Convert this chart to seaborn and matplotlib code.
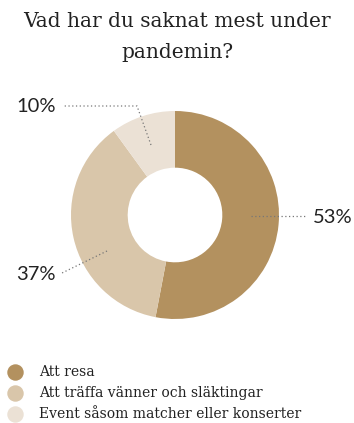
import matplotlib
matplotlib.use("Agg")
import matplotlib.pyplot as plt
import seaborn as sns
import numpy as np

# ---- data ----
title = "Vad har du saknat mest under\npandemin?"
categories = ["Att resa", "Att träffa vänner och släktingar", "Event såsom matcher eller konserter"]
values = [53, 37, 10]
value_labels = ["53%", "37%", "10%"]
colors = ["#B3915F", "#D9C6AA", "#EBE1D5"]

sns.set_theme(style="white")
plt.rcParams["font.family"] = ["DejaVu Serif"]

W, H = 354, 423
fig = plt.figure(figsize=(W / 100, H / 100), dpi=100)
ax = fig.add_axes([0, 0, 1, 1])

cx, cy, R = 175, H - 215, 104
wedges, _ = ax.pie(values, colors=colors, startangle=90, counterclock=False,
                   center=(cx, cy), radius=R, frame=True,
                   wedgeprops=dict(width=R * 0.545, linewidth=0))
ax.set_xlim(0, W)
ax.set_ylim(0, H)
ax.set_aspect("equal")
ax.axis("off")

fig.text(0.5, 1 - 37 / H, title, ha="center", va="center", fontsize=14.5,
         family="DejaVu Serif", color="#222222", linespacing=1.75)

# ---- value labels with dotted leader lines (layout positions) ----
line_kw = dict(color="#777777", lw=0.9, ls=(0, (1, 2)))
lab_kw = dict(fontsize=14.5, family="Lato", color="#222222", va="center")
# 53%
ax.plot([251, 305], [H - 216, H - 216], **line_kw)
ax.text(313, H - 217, value_labels[0], ha="left", **lab_kw)
# 37%
ax.plot([107, 62], [H - 251, H - 273], **line_kw)
ax.text(56, H - 275, value_labels[1], ha="right", **lab_kw)
# 10%
ax.plot([151, 137, 64], [H - 145, H - 106, H - 106], **line_kw)
ax.text(56, H - 106, value_labels[2], ha="right", **lab_kw)

# ---- legend ----
for i, (lab, col) in enumerate(zip(categories, colors)):
    y = H - (372 + 21 * i)
    ax.scatter([15], [y], s=140, color=col, linewidths=0)
    ax.text(39, y, lab, ha="left", va="center", fontsize=10,
            family="DejaVu Serif", color="#222222")

fig.savefig("out.png", dpi=100)
